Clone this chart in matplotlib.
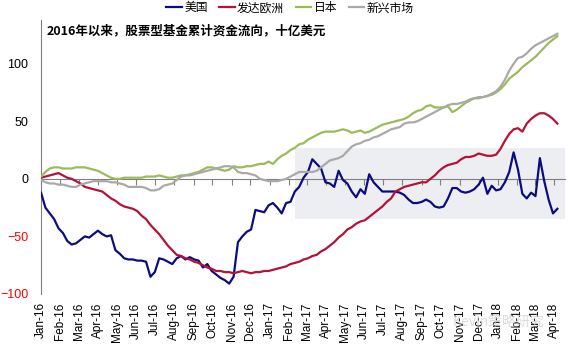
# ── Kumulierte Aktienfondsflüsse seit 2016 (Mrd. USD) ──────────────
import pandas as pd
import matplotlib
matplotlib.use("Agg")
import matplotlib.pyplot as plt
import matplotlib.dates as mdates
from matplotlib.patches import Rectangle

plt.rcParams['font.family'] = ['Liberation Sans', 'Noto Sans CJK SC', 'DejaVu Sans']
CJK = ['Noto Sans CJK SC', 'DejaVu Sans']

# ── Wochendaten ─────────────────────────────────────────────────────
wochen = pd.date_range('2016-01-01', periods=119, freq='7D')

usa = [-12, -25, -30, -35, -43, -47, -54, -57, -56, -53,
       -50, -51, -48, -45, -48, -50, -49, -62, -65, -69,
       -70, -70, -71, -71, -72, -85, -81, -69, -70, -72,
       -74, -69, -67, -70, -68, -70, -71, -77, -74, -80,
       -83, -86, -88, -91, -85, -55, -50, -46, -44, -27,
       -28, -29, -23, -21, -25, -30, -21, -20, -11, -7,
       1, 6, 17, 13, 9, -3, -4, -7, 7, -1,
       -4, -11, -16, -9, -13, 4, -3, -7, -11, -11,
       -11, -11, -12, -14, -18, -21, -21, -20, -18, -20,
       -24, -25, -24, -17, -8, -8, -11, -12, -11, -9,
       -5, 1, -13, -6, -10, -9, -3, 6, 23, 8,
       -13, -17, -12, -15, 18, -2, -18, -30, -26]

europa = [1, 2, 3, 4, 5, 3, 1, 0, -2, -4,
          -7, -8, -9, -10, -11, -14, -17, -19, -22, -24,
          -25, -26, -28, -32, -35, -40, -44, -48, -53, -58,
          -62, -66, -67, -69, -70, -72, -73, -75, -77, -78,
          -80, -80, -81, -81, -82, -81, -80, -81, -82, -81,
          -81, -80, -80, -79, -78, -77, -76, -74, -73, -72,
          -70, -69, -67, -66, -63, -61, -58, -55, -51, -48,
          -44, -42, -39, -37, -36, -33, -30, -27, -24, -20,
          -17, -11, -9, -7, -6, -5, -4, -3, -3, 0,
          3, 7, 10, 12, 13, 14, 17, 19, 19, 20,
          22, 21, 20, 20, 21, 26, 33, 39, 43, 44,
          41, 48, 52, 55, 57, 57, 55, 52, 48]

japan = [2, 6, 9, 10, 10, 9, 9, 9, 10, 10,
         10, 9, 8, 7, 5, 3, 1, 0, 0, 1,
         1, 1, 1, 1, 2, 2, 2, 3, 2, 1,
         1, 2, 3, 3, 4, 5, 6, 8, 10, 10,
         9, 8, 7, 8, 11, 10, 10, 11, 11, 12,
         13, 13, 15, 13, 17, 20, 22, 25, 27, 30,
         31, 34, 36, 38, 40, 41, 41, 41, 42, 43,
         42, 40, 41, 42, 40, 41, 43, 45, 47, 48,
         49, 50, 51, 52, 54, 57, 59, 60, 63, 64,
         62, 62, 62, 63, 58, 60, 63, 66, 68, 70,
         70, 71, 72, 73, 75, 78, 82, 87, 90, 93,
         97, 100, 103, 106, 110, 114, 118, 121, 124]

schwellen = [-1, -3, -4, -4, -5, -5, -6, -7, -7, -5,
             -4, -3, -2, -2, -2, -2, -3, -3, -4, -5,
             -7, -7, -7, -7, -8, -10, -10, -9, -6, -5,
             -4, -1, 2, 3, 3, 4, 5, 6, 7, 8,
             9, 10, 11, 11, 10, 6, 5, 5, 4, 3,
             0, -1, -2, -2, -2, -1, 0, 2, 4, 6,
             6, 6, 6, 7, 10, 13, 16, 17, 18, 20,
             24, 28, 30, 31, 33, 34, 36, 37, 39, 41,
             43, 44, 45, 48, 49, 49, 50, 52, 54, 56,
             58, 60, 62, 64, 65, 65, 66, 67, 69, 70,
             71, 71, 72, 74, 76, 80, 86, 94, 100, 105,
             106, 109, 113, 116, 118, 120, 122, 124, 126]

serien = [
    ('美国', usa, '#0c0c80'),
    ('发达欧洲', europa, '#b5123a'),
    ('日本', japan, '#9bbb59'),
    ('新兴市场', schwellen, '#a9a9a9'),
]

# hervorgehobener Zeitraum
box_start, box_ende = pd.Timestamp('2017-02-11'), pd.Timestamp('2018-04-18')
box_unten, box_oben = -35, 27

# ── Abbildung ───────────────────────────────────────────────────────
fig = plt.figure(figsize=(5.7, 3.5), dpi=100)
ax = fig.add_axes([0.072, 0.16, 0.919, 0.783])

x0 = mdates.date2num(box_start)
ax.add_patch(Rectangle((x0, box_unten), mdates.date2num(box_ende) - x0,
                       box_oben - box_unten, fc='#eceef2', ec='none', zorder=0))

for name, werte, farbe in serien:
    ax.plot(wochen, werte, color=farbe, lw=1.6, label=name, zorder=3)

ax.set_xlim(pd.Timestamp('2016-01-01'), box_ende)
ax.set_ylim(-100, 138)

# Achsen im Excel-Stil: Nulllinie mit Monatsstrichen, Beschriftung unten
for s in ['top', 'right']:
    ax.spines[s].set_visible(False)
ax.spines['left'].set_color('#808080')
ax.spines['bottom'].set_position(('data', 0))
ax.spines['bottom'].set_color('#808080')
ax.spines['bottom'].set_zorder(2)
ax.xaxis.set_major_locator(mdates.MonthLocator())
ax.tick_params(axis='x', length=4, color='#808080', labelbottom=False)

sec = ax.secondary_xaxis('bottom')
sec.xaxis.set_major_locator(mdates.MonthLocator())
sec.xaxis.set_major_formatter(mdates.DateFormatter('%b-%y'))
sec.tick_params(length=0, pad=6, labelsize=8.5, labelrotation=90)
for s in sec.spines.values():
    s.set_visible(False)

yticks = [-100, -50, 0, 50, 100]
ax.set_yticks(yticks)
ax.tick_params(axis='y', length=0, pad=9, labelsize=9)
for lbl, v in zip(ax.get_yticklabels(), yticks):
    lbl.set_color('red' if v < 0 else 'black')

# ── Titel, Legende ──────────────────────────────────────────────────
fig.text(0.082, 1 - 31 / 350, '2016年以来，股票型基金累计资金流向，十亿美元',
         fontsize=9, fontweight='bold', family=CJK, va='center')

fig.legend(loc='center', bbox_to_anchor=(290 / 570, 1 - 8 / 350), ncol=4,
           frameon=False, handlelength=1.3, handletextpad=0.2,
           columnspacing=1.0, prop={'family': CJK, 'size': 8.5})

# Wasserzeichen
fig.text(0.875, 1 - 322 / 350, 'Kevin策略研究', color='#cccccc', alpha=0.7,
         fontsize=10, ha='center', va='center', family=CJK, zorder=0)

fig.savefig('out.png', dpi=100)
